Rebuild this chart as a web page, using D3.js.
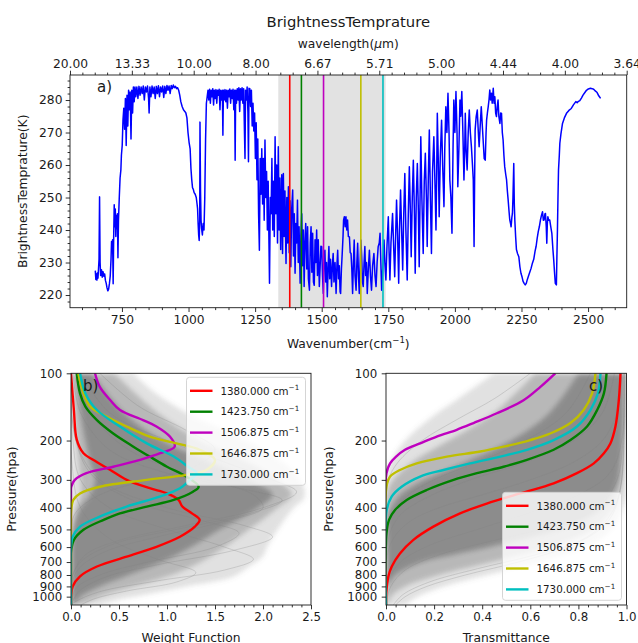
<!DOCTYPE html>
<meta charset="utf-8">
<style>
body { margin: 0; background: #fff; }
svg text { font-family: "DejaVu Sans", sans-serif; fill: #1a1a1a; }
.axis path.domain { display: none; }
.axis line { stroke: #1a1a1a; stroke-width: 0.9; }
.axis text { font-size: 12.3px; fill: #1a1a1a; }
.paxis text { font-size: 11.8px; }
</style>
<body>
<div id="chart"></div>
</body>
<script src="https://d3js.org/d3.v7.min.js"></script>
<script>

// ---------- data ----------
// wavenumber (cm-1), brightness temperature (K)
var spectrum = [
  [650,227.5],[652,224.8],[654,226.5],[656,224.6],[658,226.8],[660,225.2],[662,228],[664,231],[666,250.2],[668,230],[670,226],[673,227.8],[676,225.5],[679,227.2],[682,225.8],[685,226.5],[688,224.5],[691,223.6],[694,222.2],[697,221.3],[700,221.8],[703,223.5],[706,225.8],[709,231],[711,236.5],[713,234],[715,237],[717,223.5],[719,238],[721,247.8],[723,241],[725,246.5],[727,238],[729,244.5],[731,240.5],[733,245],[735,231.5],[737,243],[740,250],[743,256],[746,258.5],[748,263],[751,266],[754,274],[757,277.5],[760,271],[763,280.5],[766,266],[769,281.5],[772,272],[775,283],[778,277],[781,282.5],[784,268],[787,283],[790,276],[793,284],[796,279.5],[799,284],
  [802,281],[806,284],[810,280.5],[814,284.2],[818,281.5],[822,284],[826,282],[830,284.3],[834,280],[838,284],[842,282.5],[846,284.3],[850,280.5],[852,276],[855,284],[859,281],[863,284.3],[867,282],[871,284],[875,280.5],[879,284.2],[883,282],[887,284.4],[891,281],[895,284],[899,282.5],[903,284.3],[907,280.8],[911,284.2],[915,282],[919,284.5],[923,283],[927,284.3],[931,282],[935,284.5],[939,283.5],[943,284.6],[947,283.8],[951,284.2],[955,283.5],[959,283.8],[963,283],[967,281.5],[971,279.5],[976,278],[981,277],[986,276.5],[990,276],[994,274.5],[998,270],[1002,267],[1006,265],[1009,259],[1012,255.5],[1015,253],[1018,252.5],[1021,251.5],[1025,251],[1029,250],[1032,248],[1034,246.5],[1036,242],[1038,238.5],[1040,236.8],[1042,243],[1043,273.2],[1045,252],[1047,243],[1049,240.5],[1052,238.5],[1055,242],[1058,240],[1061,250],[1064,268],[1067,279],[1070,281],
  [1073,283],[1076,280],[1079,283.3],[1082,279],[1085,283],[1088,281],[1091,283.5],[1094,278.5],[1097,283],[1100,280.5],[1103,283.2],[1106,279],[1109,283],[1112,281.5],[1115,283.3],[1118,277],[1121,283],[1124,280],[1127,283],[1129,269.2],[1131,283],[1134,280],[1137,283.2],[1140,279.5],[1143,283],[1146,277.5],[1149,283],[1152,281],[1155,283.4],[1158,279],[1161,283],[1164,280.5],[1167,283.3],[1170,277],[1173,283],[1175,261.5],[1177,283],[1180,279],[1183,283.5],[1186,280],[1189,283.8],[1192,276.5],[1195,283.5],[1198,280],[1201,283.8],[1204,279],[1207,283.5],[1210,270],[1212,262],[1214,283],[1217,280],[1220,284],[1223,276],[1225,261],[1227,283.6],[1230,283.5],
  [1233,278],[1236,283],[1239,272],[1242,279],[1245,270.5],[1248,276],[1251,262],[1254,273],[1257,255.5],[1260,268],[1263,245],[1266,233.8],[1269,262],[1272,251],[1275,265],[1278,248],[1281,262],[1284,243],[1287,267.7],[1290,250],[1293,258],[1296,240],[1299,255],[1302,236],[1304,223.6],[1307,250],[1310,245],[1313,262],[1316,240],[1319,255],[1322,238],[1325,268.7],[1328,245],[1331,260],[1334,236],[1337,265.6],[1340,240],[1343,256],[1346,234],[1350,257],[1353,232.8],[1356,257.4],[1359,238],[1362,252],[1366,229.7],[1369,250],[1372,236],[1375,253.3],[1378,233],[1381,249],[1384,228.7],[1387,246],[1391,252.3],[1394,232],[1397,245],[1400,226.7],[1403,242],[1406,236],[1409,249.2],[1412,230],[1415,241],[1419,223.6],[1422,238],[1425,245],[1428,229],[1431,240],[1434,222.6],[1437,236],[1440,242],[1444,228],[1447,241],[1450,225],[1454,221.5],[1457,236],[1460,241],[1463,227],[1466,239],[1469,224],[1472,223],[1475,237],[1478,230],[1481,240],[1484,226],[1487,237],[1491,222.6],[1494,228.7],
  [1497,235],[1500,234.9],[1503,226],[1506,220.5],[1509,231],[1512,233.8],[1515,224],[1518,230],[1521,219.5],[1524,228],[1527,234.9],[1530,225],[1533,231],[1537,222.6],[1540,229],[1543,232.8],[1546,224],[1550,230],[1554,220.5],[1557,229],[1560,233.8],[1563,225],[1566,229],[1569,221],[1571,220.5],[1574,228],[1577,232.8],[1580,238],[1582,243],[1585,244.1],[1588,241],[1591,244.1],[1594,240],[1597,243.1],[1600,238],[1604,237.9],[1607,233],[1610,232.8],[1613,228],[1616,220.5],[1619,230],[1622,236.9],[1625,226],[1629,221.5],[1632,230],[1635,235.9],[1638,226],[1641,220.5],[1644,229],[1647,236.9],[1650,232],[1653,224],[1656,222.6],[1659,230],[1662,234.9],[1665,226],[1668,230],[1671,220.5],[1675,228],[1679,233.8],[1683,226],[1687,221.5],[1691,229],[1696,232.8],[1700,226],[1704,222.6],[1708,230],[1712,234.9],[1716,236],[1719,239],[1722,230],[1725,221.5],[1729,228],[1734,236.9],[1737,230],[1741,224.6],[1745,235],[1750,244.1],[1753,233],[1756,224.6],[1760,236],[1766,245.1],[1770,235],[1774,225.6],[1778,240],[1781,249.2],[1785,238],[1789,223.6],[1792,240],[1796,252.3],[1800,240],[1804,227.7],[1808,245],[1812,257.4],[1816,240],[1821,224.6],[1825,245],[1829,259.5],[1833,245],[1836,231.8],[1840,250],[1844,261.5],[1848,245],[1851,226.7],[1855,250],[1859,260.5],[1863,245],[1866,228.7],[1870,255],[1872,268.7],[1876,250],[1881,232.8],[1885,255],[1889,263.6],[1893,250],[1896,234.9],[1900,255],[1904,270.8],[1908,250],[1912,232.8],[1916,258],[1921,268.7],[1925,255],[1929,240],[1932,260],[1934,275.9],[1938,260],[1941,244.1],[1945,262],[1950,273.8],[1954,260],[1959,247.2],[1962,265],[1966,277.9],[1970,270],[1974,282.1],[1978,270],[1981,255.4],[1985,250],[1989,239],[1993,265],[1996,280],[2000,270],[2004,282.6],[2008,270],[2011,253.3],[2015,265],[2019,280],[2022,275],[2026,282.6],[2030,270],[2034,255.4],[2037,265],[2039,275.9],[2042,265],[2046,258.5],[2050,270],[2054,276.9],[2058,270],[2062,265.6],[2066,260],[2069,255.4],[2072,234.9],[2074,255],[2076,270.8],[2080,275],[2084,276.9],[2088,270],[2091,265.6],[2095,272],[2099,277.9],[2103,272],[2106,267.7],[2110,262],[2114,261.5],[2117,270],[2119,273.8],[2122,276],[2125,277.9],[2128,280],[2131,283.1],[2134,280],[2137,282.1],[2140,279],[2144,283.6],[2147,279],[2150,281],[2153,276],[2156,274.9],[2159,278],[2162,280],[2165,275],[2169,272.8],[2172,276],[2175,275.9],[2178,270],[2181,267.7],[2184,263],[2187,259.5],[2191,257],[2194,255.4],[2197,252],[2200,249.2],[2203,246],[2206,243.1],[2209,242],[2211,241],[2214,244],[2216,245.1],[2218,250],[2221,260.5],[2223,248],[2225,243],[2228,238],[2231,234],[2235,232.8],[2240,231.8],[2244,228.7],[2248,226.7],[2252,225.6],[2256,224.2],[2260,223.6],[2264,223.1],[2268,223.6],[2272,224.8],[2276,225.8],[2281,227],[2286,228.2],[2291,229.8],[2296,231],[2301,233.5],[2305,235],[2309,237.5],[2313,239.5],[2317,241],[2321,243],[2325,244.5],[2329,245.6],[2332,243],[2335,243.1],[2338,245],[2340,245.1],[2343,241],[2345,235.9],[2347,242],[2349,244.1],[2352,243],[2356,243.1],[2360,241],[2364,239],[2368,234],[2371,230.8],[2374,227],[2377,223.6],[2381,223.1],[2383,232],[2385,240],[2387,250],[2389,258.5],[2392,263],[2394,266.7],[2398,269.5],[2404,272.8],[2411,274.5],[2419,275.9],[2428,276.8],[2437,277.4],[2445,278.5],[2454,279.5],[2459,279.2],[2464,279.6],[2469,279.8],[2475,280.6],[2481,281.5],[2488,282.3],[2494,283],[2501,283.4],[2509,283.6],[2515,283.5],[2521,283.3],[2527,282.8],[2534,282.3],[2540,281.3],[2547,280.5]
]

var channels = [1380, 1423.75, 1506.875, 1646.875, 1730]
var channelColors = ["#ff0000", "#008000", "#bf00bf", "#bfbf00", "#00bfbf"]
var bandSpan = [1337, 1740]

var wnTicks = [750, 1000, 1250, 1500, 1750, 2000, 2250, 2500]
var btTicks = [220, 230, 240, 250, 260, 270, 280]
var wlTickLabels = ["20.00", "13.33", "10.00", "8.00", "6.67", "5.71", "5.00", "4.44", "4.00", "3.64"]
var pTicks = [100, 200, 300, 400, 500, 600, 700, 800, 900, 1000]
var wfTicks = [0, 0.5, 1.0, 1.5, 2.0, 2.5]
var trTicks = [0, 0.2, 0.4, 0.6, 0.8, 1.0]

// weighting functions [value, pressure hPa]
var wf1380 = [[0,100],[0.03,146],[0.06,198],[0.13,228],[0.23,244],[0.41,271],[0.58,300],[0.82,327],[1.0,345],[1.12,369],[1.16,395],[1.26,424],[1.34,453],[1.29,486],[1.135,539],[0.89,598],[0.58,662],[0.27,733],[0.094,811],[0.017,900],[0,1000],[0,1090]]
var wf1424 = [[0.06,100],[0.094,123],[0.15,141],[0.27,162],[0.44,186],[0.65,213],[0.82,236],[1.0,262],[1.2,290],[1.33,322],[1.27,339],[1.07,369],[0.79,395],[0.51,424],[0.34,453],[0.13,502],[0.03,557],[0.003,617],[0,700],[0,1090]]
var wf1507 = [[0.25,100],[0.30,115],[0.41,132],[0.51,146],[0.75,162],[0.89,173],[1.03,192],[1.08,213],[0.93,228],[0.72,244],[0.44,262],[0.16,280],[0.04,300],[0.003,322],[0,345],[0,1090]]
var wf1647 = [[0.076,100],[0.13,123],[0.2,141],[0.37,156],[0.58,173],[0.82,192],[1.10,206],[1.34,220],[1.5,244],[1.41,271],[1.2,285],[0.79,300],[0.30,322],[0.094,345],[0.024,369],[0.003,409],[0,486],[0,1090]]
var wf1730 = [[0.094,100],[0.15,123],[0.27,146],[0.51,173],[0.79,206],[1.07,236],[1.22,262],[1.31,280],[1.24,300],[1.135,327],[0.93,356],[0.58,395],[0.30,438],[0.094,486],[0.017,539],[0,598],[0,1090]]

// transmittance [value, pressure hPa]
var tr1380 = [[0.975,100],[0.968,132],[0.954,173],[0.933,206],[0.906,228],[0.864,253],[0.794,280],[0.697,311],[0.558,345],[0.419,383],[0.308,424],[0.197,486],[0.114,557],[0.058,641],[0.024,733],[0.01,811],[0.001,967],[0,1090]]
var tr1424 = [[0.917,100],[0.906,123],[0.878,146],[0.836,173],[0.767,199],[0.697,220],[0.586,244],[0.489,262],[0.378,280],[0.281,300],[0.169,333],[0.086,369],[0.0375,409],[0.0125,453],[0.002,521],[0,1090]]
var tr1507 = [[0.704,100],[0.642,115],[0.572,132],[0.461,151],[0.364,167],[0.294,179],[0.211,192],[0.142,206],[0.079,220],[0.042,236],[0.017,253],[0.002,280],[0,1090]]
var tr1647 = [[0.871,100],[0.857,123],[0.822,146],[0.767,167],[0.683,186],[0.6,199],[0.489,213],[0.392,224],[0.253,236],[0.128,253],[0.058,271],[0.017,290],[0.002,322],[0,1090]]
var tr1730 = [[0.892,100],[0.881,123],[0.85,146],[0.794,173],[0.697,199],[0.586,220],[0.475,236],[0.35,253],[0.239,271],[0.142,290],[0.065,322],[0.024,356],[0.003,409],[0,1090]]

// spread of the ensemble profiles: [pressure, left, right]
var wfSpreadOuter = [[100,0,0.65],[120,0,0.85],[150,0,1.2],[180,0,1.6],[220,0,2.0],[270,0,2.3],[320,0,2.42],[360,0,2.43],[400,0,2.32],[480,0,2.18],[600,0,2.04],[660,0,2.0],[730,0,1.86],[810,0,1.7],[900,0,1.2],[970,0,0.82],[1030,0,0.5],[1090,0,0.3]]
var wfSpreadMid = [[100,0.02,0.45],[150,0.04,0.9],[200,0.06,1.35],[250,0.08,1.85],[300,0.1,2.15],[350,0.1,2.3],[400,0.05,2.15],[450,0.02,2.0],[500,0,1.85],[600,0,1.6],[700,0,1.35],[800,0,1.05],[900,0,0.65],[1000,0,0.3],[1090,0,0.12]]
var wfSpreadCore = [[100,0.05,0.22],[150,0.1,0.55],[200,0.15,0.95],[250,0.2,1.45],[300,0.25,1.85],[350,0.2,2.1],[400,0.1,1.95],[450,0.05,1.75],[500,0.02,1.55],[600,0,1.25],[700,0,0.95],[800,0,0.6],[900,0,0.3],[1000,0,0.1],[1090,0,0.03]]

var trSpreadOuter = [[100,0.45,1.0],[130,0.3,1.0],[160,0.18,1.0],[200,0.08,1.0],[250,0.02,1.0],[300,0,1.0],[350,0,1.0],[400,0,0.985],[500,0,0.94],[600,0,0.83],[700,0,0.64],[800,0,0.42],[900,0,0.24],[1000,0,0.13],[1090,0,0.08]]
var trSpreadMid = [[100,0.62,0.995],[150,0.45,0.995],[200,0.26,0.99],[250,0.11,0.99],[300,0.03,0.985],[350,0,0.97],[400,0,0.95],[500,0,0.86],[600,0,0.68],[700,0,0.44],[800,0,0.22],[900,0,0.08],[1000,0,0.02],[1090,0,0.01]]
var trSpreadCore = [[100,0.8,0.99],[150,0.68,0.99],[200,0.52,0.985],[250,0.33,0.975],[300,0.16,0.965],[350,0.06,0.94],[400,0.02,0.9],[450,0,0.83],[500,0,0.72],[550,0,0.58],[600,0,0.43],[650,0,0.28],[700,0,0.15],[800,0,0.04],[900,0,0.005]]

// a few individual ensemble members [value, pressure hPa]
var wfMembers = [
  [[0,100],[0.02,200],[0.1,300],[0.4,400],[1.0,500],[1.6,600],[1.9,680],[1.6,760],[0.9,850],[0.3,950],[0.05,1050],[0,1090]],
  [[0.1,100],[0.4,150],[1.0,200],[1.6,250],[2.1,300],[2.35,340],[2.0,400],[1.2,480],[0.5,560],[0.15,650],[0.02,800],[0,1090]],
  [[0,100],[0.05,200],[0.3,300],[1.0,400],[1.8,480],[2.1,540],[1.7,620],[0.9,720],[0.35,820],[0.08,950],[0,1090]],
  [[0.3,100],[0.7,140],[1.2,180],[1.5,220],[1.3,260],[0.8,300],[0.3,350],[0.05,420],[0,500],[0,1090]],
  [[0.02,100],[0.1,150],[0.4,220],[1.0,280],[1.8,330],[2.2,370],[1.9,420],[1.1,500],[0.45,580],[0.1,700],[0,850],[0,1090]],
  [[0,100],[0.01,250],[0.1,400],[0.4,550],[0.9,680],[1.3,780],[1.1,860],[0.6,940],[0.25,1020],[0.1,1090]],
  [[0.05,100],[0.2,150],[0.6,220],[1.3,290],[1.9,350],[2.0,400],[1.6,460],[0.9,540],[0.35,630],[0.08,750],[0,900],[0,1090]],
  [[0,100],[0.03,180],[0.2,280],[0.7,380],[1.4,460],[1.75,520],[1.5,600],[0.8,700],[0.3,800],[0.05,920],[0,1090]]
]
var trMembers = [
  [[0.995,100],[0.99,200],[0.98,300],[0.95,400],[0.88,500],[0.75,600],[0.55,700],[0.33,800],[0.17,900],[0.08,1000],[0.04,1090]],
  [[0.6,100],[0.45,130],[0.3,160],[0.15,200],[0.05,250],[0.01,300],[0,400],[0,1090]],
  [[0.98,100],[0.96,150],[0.9,200],[0.78,250],[0.6,300],[0.4,350],[0.22,400],[0.1,460],[0.03,550],[0,700],[0,1090]],
  [[0.99,100],[0.985,200],[0.96,300],[0.88,400],[0.7,480],[0.45,560],[0.22,650],[0.08,760],[0.02,900],[0,1090]],
  [[0.95,100],[0.9,150],[0.78,200],[0.58,250],[0.35,300],[0.17,360],[0.06,430],[0.01,550],[0,1090]],
  [[0.99,100],[0.985,250],[0.97,350],[0.93,450],[0.83,550],[0.62,650],[0.38,750],[0.18,860],[0.07,980],[0.03,1090]],
  [[0.85,100],[0.75,150],[0.58,200],[0.38,250],[0.2,300],[0.08,360],[0.02,450],[0,600],[0,1090]],
  [[0.99,100],[0.98,200],[0.93,280],[0.8,350],[0.6,420],[0.38,500],[0.18,590],[0.06,700],[0.01,850],[0,1090]]
]

var wfCurves = [wf1380, wf1424, wf1507, wf1647, wf1730]
var trCurves = [tr1380, tr1424, tr1507, tr1647, tr1730]

// ---------- layout ----------
var width = 638, height = 643
var svg = d3.select("#chart").append("svg")
  .attr("width", width).attr("height", height)

var defs = svg.append("defs")
function clip(id, x0, y0, x1, y1) {
  defs.append("clipPath").attr("id", id).append("rect")
    .attr("x", x0).attr("y", y0).attr("width", x1 - x0).attr("height", y1 - y0)
  return "url(#" + id + ")"
}
defs.append("filter").attr("id", "soft").attr("x", "-10%").attr("y", "-10%").attr("width", "120%").attr("height", "120%")
  .append("feGaussianBlur").attr("stdDeviation", 2.5)

function minorTicks(g, axis) {
  g.append("g").attr("class", "axis").call(axis)
}

// ================= panel a =================
var xWn = d3.scaleLinear([555, 2645], [70, 626.7])
var yBt = d3.scaleLinear([216.1, 287.7], [307.7, 75])
var xTop = d3.scaleLinear([0, 9], [70, 626.7])

var pa = svg.append("g")
var pac = pa.append("g").attr("clip-path", clip("clipA", 70, 75, 626.7, 307.7))

pac.append("rect")
  .attr("x", xWn(bandSpan[0])).attr("width", xWn(bandSpan[1]) - xWn(bandSpan[0]))
  .attr("y", yBt.range()[1]).attr("height", yBt.range()[0] - yBt.range()[1])
  .attr("fill", "#e2e2e2")

pac.append("path")
  .datum(spectrum)
  .attr("fill", "none").attr("stroke", "#0000ff").attr("stroke-width", 1.5)
  .attr("stroke-linejoin", "round")
  .attr("d", d3.line().x(d => xWn(d[0])).y(d => yBt(d[1])))

pac.selectAll("line.chan")
  .data(channels)
  .join("line")
  .attr("class", "chan")
  .attr("x1", d => xWn(d)).attr("x2", d => xWn(d))
  .attr("y1", yBt.range()[0]).attr("y2", yBt.range()[1])
  .attr("stroke", (d, i) => channelColors[i]).attr("stroke-width", 1.6)

pa.append("text").attr("x", 97).attr("y", 92).style("font-size", "15px").text("a)")

pa.append("rect").attr("x", 70).attr("y", 75).attr("width", 556.7).attr("height", 232.7)
  .attr("fill", "none").attr("stroke", "#1a1a1a").attr("stroke-width", 0.9)

pa.append("g").attr("class", "axis").attr("transform", "translate(0,307.7)")
  .call(d3.axisBottom(xWn).tickValues(wnTicks).tickFormat(d3.format("d")).tickSize(4.3).tickPadding(3.2))
minorTicks(pa.append("g").attr("transform", "translate(0,307.7)"),
  d3.axisBottom(xWn).tickValues(d3.range(600, 2645, 50).filter(v => v % 250 !== 0)).tickSize(2.4).tickFormat(""))

pa.append("g").attr("class", "axis").attr("transform", "translate(70,0)")
  .call(d3.axisLeft(yBt).tickValues(btTicks).tickSize(4.3).tickPadding(3.2))
minorTicks(pa.append("g").attr("transform", "translate(70,0)"),
  d3.axisLeft(yBt).tickValues(d3.range(218, 288, 2).filter(v => v % 10 !== 0)).tickSize(2.4).tickFormat(""))

pa.append("g").attr("class", "axis").attr("transform", "translate(0,75)")
  .call(d3.axisTop(xTop).tickValues(d3.range(10)).tickFormat(i => wlTickLabels[i]).tickSize(4.3).tickPadding(3.2))
minorTicks(pa.append("g").attr("transform", "translate(0,75)"),
  d3.axisTop(xTop).tickValues(d3.range(0, 9, 0.2).filter(v => Math.abs(v - Math.round(v)) > 0.01)).tickSize(2.4).tickFormat(""))

var xa = pa.append("text").attr("x", 348.3).attr("y", 347.5).attr("text-anchor", "middle").style("font-size", "12.3px")
xa.append("tspan").text("Wavenumber(cm")
xa.append("tspan").attr("dy", -5).style("font-size", "8.6px").text("\u22121")
xa.append("tspan").attr("dy", 5).text(")")

pa.append("text").attr("transform", "translate(27,191.3) rotate(-90)").attr("text-anchor", "middle")
  .style("font-size", "12.3px").text("BrightnessTemprature(K)")

var wl = pa.append("text").attr("x", 348.3).attr("y", 47.5).attr("text-anchor", "middle").style("font-size", "12.3px")
wl.append("tspan").text("wavelength(")
wl.append("tspan").style("font-style", "italic").text("\u03bc")
wl.append("tspan").text("m)")

pa.append("text").attr("x", 348.3).attr("y", 26.5).attr("text-anchor", "middle")
  .style("font-size", "14.8px").text("BrightnessTemprature")

// ================= panels b and c =================
var yP = d3.scaleLog([100, 1090], [373.3, 605])
var xW = d3.scaleLinear([0, 2.5], [71, 311])
var xT = d3.scaleLinear([0, 1], [386, 626.5])

var spreadFill = "#6a6a6a"
var spreadOpac = [0.2, 0.34, 0.55]

function profilePanel(opt) {
  var g = svg.append("g")
  var x = opt.x
  var x0 = x.range()[0], x1 = x.range()[1]
  var gc = g.append("g").attr("clip-path", clip(opt.id, x0, 373.3, x1, 605))

  var area = d3.area().curve(d3.curveCatmullRom)
    .y(d => yP(d[0])).x0(d => x(d[1])).x1(d => x(d[2]))
  var soft = gc.append("g").attr("filter", "url(#soft)")
  opt.spread.forEach(function(s, i) {
    soft.append("path").datum(s).attr("d", area)
      .attr("fill", spreadFill).attr("fill-opacity", spreadOpac[i])
  })

  var line = d3.line().curve(d3.curveCatmullRom).x(d => x(d[0])).y(d => yP(d[1]))
  gc.selectAll("path.member")
    .data(opt.members)
    .join("path")
    .attr("class", "member")
    .attr("d", line)
    .attr("fill", "none").attr("stroke", "#808080").attr("stroke-opacity", 0.3).attr("stroke-width", 0.9)

  g.append("text").attr("x", opt.lab[0]).attr("y", opt.lab[1]).style("font-size", "15px").text(opt.label)

  gc.selectAll("path.prof")
    .data(opt.curves)
    .join("path")
    .attr("class", "prof")
    .attr("d", line)
    .attr("fill", "none")
    .attr("stroke", (d, i) => channelColors[i])
    .attr("stroke-width", 2.4)

  g.append("rect").attr("x", x0).attr("y", 373.3).attr("width", x1 - x0).attr("height", 231.7)
    .attr("fill", "none").attr("stroke", "#1a1a1a").attr("stroke-width", 0.9)

  g.append("g").attr("class", "axis paxis").attr("transform", "translate(0,605)")
    .call(d3.axisBottom(x).tickValues(opt.ticks).tickFormat(d3.format(".1f")).tickSize(4.3).tickPadding(3.2))
  minorTicks(g.append("g").attr("transform", "translate(0,605)"),
    d3.axisBottom(x).tickValues(opt.minor).tickSize(2.4).tickFormat(""))

  g.append("g").attr("class", "axis paxis").attr("transform", "translate(" + x0 + ",0)")
    .call(d3.axisLeft(yP).tickValues(pTicks).tickFormat(d3.format("d")).tickSize(4.3).tickPadding(4.5))

  g.append("text").attr("x", (x0 + x1) / 2).attr("y", 642).attr("text-anchor", "middle")
    .style("font-size", "12.3px").text(opt.xlabel)
  g.append("text").attr("transform", "translate(" + opt.ylabX + ",489) rotate(-90)").attr("text-anchor", "middle")
    .style("font-size", "12.3px").text("Pressure(hpa)")

  // legend
  var L = opt.legend
  var lg = g.append("g").attr("transform", "translate(" + L[0] + "," + L[1] + ")")
  lg.append("rect").attr("width", 119).attr("height", 108).attr("rx", 3)
    .attr("fill", "#fff").attr("fill-opacity", 0.8).attr("stroke", "#d0d0d0").attr("stroke-width", 0.9)
  var item = lg.selectAll("g.item").data(channels).join("g").attr("class", "item")
    .attr("transform", (d, i) => "translate(0," + (13.5 + i * 20.9) + ")")
  item.append("line").attr("x1", 3.5).attr("x2", 26).attr("stroke", (d, i) => channelColors[i]).attr("stroke-width", 2.4)
  var t = item.append("text").attr("x", 34).attr("dy", "0.36em").style("font-size", "10.3px")
  t.append("tspan").text(d => d3.format(".3f")(d) + " cm")
  t.append("tspan").attr("dy", -4.5).style("font-size", "7.2px").text("\u22121")
}

profilePanel({
  id: "clipB", x: xW, spread: [wfSpreadOuter, wfSpreadMid, wfSpreadCore], members: wfMembers, curves: wfCurves,
  ticks: wfTicks, minor: d3.range(0.1, 2.5, 0.1).filter(v => Math.abs(v * 2 - Math.round(v * 2)) > 0.01),
  xlabel: "Weight Function", ylabX: 16, label: "b)", lab: [83, 391], legend: [186.5, 377.3]
})

profilePanel({
  id: "clipC", x: xT, spread: [trSpreadOuter, trSpreadMid, trSpreadCore], members: trMembers, curves: trCurves,
  ticks: trTicks, minor: d3.range(0.04, 1.0, 0.04).filter(v => Math.abs(v * 5 - Math.round(v * 5)) > 0.01),
  xlabel: "Transmittance", ylabX: 333, label: "c)", lab: [589, 391], legend: [502.5, 492.3]
})

</script>
